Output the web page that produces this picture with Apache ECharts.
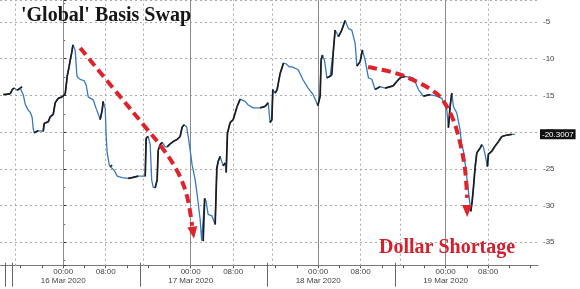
<!DOCTYPE html>
<html><head><meta charset="utf-8">
<script src="https://cdn.jsdelivr.net/npm/echarts@6/dist/echarts.min.js"></script>
<style>html,body{margin:0;padding:0;background:#fff}#c{width:580px;height:289px}</style>
</head><body><div id="c"></div>
<script>
// time in hours since 16 Mar 2020 00:00
const hours = [-11.29,-9.98,-9.60,-9.22,-8.66,-8.09,-7.72,-7.53,-7.15,-6.59,
-6.21,-5.84,-5.65,-5.46,-4.71,-3.76,-3.58,-2.82,-2.45,-1.88,
-1.51,-0.94,-0.19,0.38,0.75,1.13,1.32,1.60,1.83,2.07,
2.26,2.58,2.82,3.20,3.95,4.33,4.71,5.08,5.65,6.21,
6.78,6.96,7.34,7.53,7.91,8.09,8.28,8.66,8.85,9.22,
9.60,10.16,11.11,12.24,12.99,14.12,15.44,15.62,16.00,16.38,
16.66,16.94,17.32,17.69,17.88,18.26,18.64,19.20,19.58,20.14,
20.89,21.46,22.02,22.40,22.78,23.25,23.62,23.91,24.28,24.85,
25.22,25.79,26.07,26.35,26.64,26.92,27.29,27.99,28.61,28.93,
29.18,29.55,30.12,30.49,30.68,30.93,31.44,32.00,32.38,32.75,
33.32,33.69,34.26,34.82,35.76,37.08,38.02,38.59,38.96,39.29,
39.47,39.91,40.28,40.85,41.47,41.98,42.54,43.11,44.24,45.18,
46.12,47.06,47.62,47.94,48.38,48.56,48.81,49.19,49.45,49.64,
50.26,50.58,50.88,51.20,51.52,51.82,52.46,53.08,53.71,54.34,
54.97,55.29,55.91,56.34,56.85,57.47,58.11,58.73,59.67,60.61,
62.12,62.81,63.44,64.38,65.88,66.26,66.88,67.82,69.08,70.35,
71.29,72.23,72.53,72.85,73.17,73.47,74.11,74.73,75.05,75.35,
75.67,76.11,76.48,76.75,76.99,77.24,77.56,77.88,78.50,78.82,
79.12,79.62,79.87,80.06,80.70,81.32,81.94,82.58,83.52,84.46,
85.08];
const values = [-14.9,-14.8,-14.2,-14.0,-14.3,-14.0,-13.8,-14.9,-16.2,-17.0,
-17.3,-18.0,-19.5,-20.1,-19.8,-19.9,-18.8,-18.6,-17.9,-17.6,
-16.0,-15.4,-15.2,-14.8,-12.4,-11.0,-10.2,-9.2,-8.1,-8.5,
-8.9,-12.3,-12.6,-12.8,-13.0,-13.6,-15.2,-15.4,-15.6,-16.8,
-17.9,-18.3,-17.0,-15.8,-16.8,-20.5,-22.8,-24.4,-24.7,-24.5,
-25.2,-26.0,-26.2,-26.3,-26.2,-26.0,-26.0,-20.8,-20.6,-21.7,
-26.5,-27.5,-27.6,-26.5,-22.5,-21.7,-21.4,-22.0,-22.0,-21.6,
-21.2,-21.0,-20.6,-19.3,-19.0,-19.3,-21.0,-22.5,-24.5,-26.5,
-28.5,-31.9,-34.8,-34.85,-29.0,-29.5,-31.2,-31.4,-32.6,-24.9,
-24.0,-23.3,-24.6,-24.2,-25.5,-20.1,-18.7,-18.3,-17.4,-16.5,
-15.5,-15.6,-15.8,-16.3,-16.7,-16.7,-16.5,-16.0,-18.7,-18.3,
-14.2,-14.7,-14.2,-12.0,-10.6,-10.7,-11.1,-11.1,-11.5,-12.9,
-14.0,-14.9,-15.8,-16.4,-15.1,-10.2,-9.5,-10.2,-11.5,-12.6,
-12.4,-12.2,-8.8,-6.1,-6.5,-7.0,-6.1,-4.8,-5.9,-6.1,
-7.9,-11.0,-10.4,-8.8,-10.2,-12.6,-12.8,-14.2,-13.8,-14.0,
-13.7,-13.1,-12.6,-12.4,-12.6,-13.1,-14.2,-15.1,-14.9,-15.1,
-15.4,-17.0,-19.4,-16.5,-14.7,-16.5,-17.4,-19.7,-21.9,-22.5,
-24.2,-26.9,-29.2,-30.8,-29.5,-27.6,-24.8,-22.8,-22.2,-21.7,
-22.0,-23.7,-24.7,-23.0,-22.6,-21.9,-21.3,-20.6,-20.4,-20.3,
-20.3];
const lastValue = -20.3007;

// x-axis labelling
const dayStartHours = [0, 24, 48, 72];
const dayLabels = ['16 Mar 2020', '17 Mar 2020', '18 Mar 2020', '19 Mar 2020'];
const midnightLabel = '00:00';
const morningLabel = '08:00';
const morningOffset = 8;
const dottedGridHours = [-9.0, 8, 15.1, 32, 39.3, 56, 63.4, 80];
const longTickHours = [-10.9, -9.6, 14.4, 38.3, 62.5];

// annotations (data coordinates)
const titleText = "'Global' Basis Swap";
const noteText = 'Dollar Shortage';
const arrow1 = [[3.20,-8.54],[9.22,-13.84],[15.44,-19.29],[18.64,-22.14],[21.65,-25.54],[23.34,-28.81],[24.28,-32.76]];
const arrow1Head = [24.47,-33.71];
const arrow2 = [[57.41,-11.12],[62.49,-11.94],[65.88,-12.89],[69.08,-14.12],[71.15,-15.34],[73.22,-17.93],[74.73,-21.46],[75.67,-25.14],[76.05,-28.95]];
const arrow2Head = [76.05,-30.75];

const X_MIN = -11.9, X_MAX = 89.4, Y_MIN = -38.2, Y_MAX = -2.0;
const RED = '#e0232b';
const SANS = 'Liberation Sans';
const SERIF = 'Liberation Serif';

const mainData = hours.map((h, i) => [h, values[i]]);
const riseSegs = [];
for (let i = 1; i < hours.length; i++) {
  if (values[i] > values[i - 1]) riseSegs.push({coords: [[hours[i - 1], values[i - 1]], [hours[i], values[i]]]});
}

const chart = echarts.init(document.getElementById('c'), null, {renderer: 'canvas'});
chart.setOption({
  animation: false,
  backgroundColor: '#fff',
  title: [
    {text: titleText, left: 21, top: 6, padding: 0,
     textStyle: {fontFamily: SERIF, fontSize: 20, fontWeight: 'bold', color: '#161616'}},
    {text: noteText, left: 379, top: 238, padding: 0,
     textStyle: {fontFamily: SERIF, fontSize: 20, fontWeight: 'bold', color: '#d3202c'}}
  ],
  grid: {left: 0, right: 42, top: 0, bottom: 23.3, containLabel: false},
  xAxis: {
    type: 'value', min: X_MIN, max: X_MAX, minInterval: 4, maxInterval: 4, splitNumber: 25,
    axisLine: {show: true, onZero: false, lineStyle: {color: '#777', width: 1}},
    axisTick: {show: true, length: 2.5, lineStyle: {color: '#555'}},
    splitLine: {show: false},
    axisLabel: {
      margin: 1, color: '#444', fontSize: 8, lineHeight: 9.5, fontFamily: SANS,
      showMinLabel: false, showMaxLabel: false,
      formatter: function (v) {
        const r = ((v % 24) + 24) % 24;
        const d = dayStartHours.indexOf(v);
        if (d >= 0) return midnightLabel + '\n' + dayLabels[d];
        if (Math.abs(r - morningOffset) < 1e-6) return morningLabel;
        return '';
      }
    }
  },
  yAxis: {
    type: 'value', position: 'right', min: Y_MIN, max: Y_MAX, minInterval: 5, maxInterval: 5, splitNumber: 7,
    axisLine: {show: true, lineStyle: {color: '#555'}},
    axisTick: {show: true, length: 3, lineStyle: {color: '#333'}},
    minorTick: {show: true, splitNumber: 2, length: 2, lineStyle: {color: '#666'}},
    axisLabel: {showMinLabel: false, showMaxLabel: false, margin: 5, color: '#444', fontSize: 8, fontFamily: SANS},
    splitLine: {show: true, lineStyle: {type: [2, 3], color: '#aaa', width: 1}}
  },
  series: [
    {
      type: 'line', data: mainData, showSymbol: false, symbol: 'none', z: 3, silent: true,
      lineStyle: {color: '#3579c0', width: 1.3},
      markLine: {
        silent: true, symbol: 'none', z: 1, animation: false, label: {show: false},
        data: dayStartHours.map(h => ({xAxis: h, lineStyle: {type: 'solid', color: '#8a8a8a', width: 1}}))
          .concat(dottedGridHours.map(h => ({xAxis: h, lineStyle: {type: [2, 3], color: '#aaa', width: 1}})))
      }
    },
    {
      type: 'lines', coordinateSystem: 'cartesian2d', polyline: false, z: 4, silent: true,
      data: riseSegs, lineStyle: {color: '#1c1c1c', width: 1.7, opacity: 1}
    },
    {
      type: 'line', data: arrow1, smooth: 0.35, showSymbol: false, symbol: 'none', z: 5, silent: true,
      lineStyle: {color: RED, width: 4, type: [9, 5]}
    },
    {
      type: 'line', data: arrow2, smooth: 0.35, showSymbol: false, symbol: 'none', z: 5, silent: true,
      lineStyle: {color: RED, width: 4, type: [9, 5]}
    },
    {
      type: 'scatter', z: 5, silent: true, symbol: 'triangle', symbolSize: [10, 12],
      itemStyle: {color: RED, opacity: 1},
      data: [{value: arrow1Head, symbolRotate: 188}, {value: arrow2Head, symbolRotate: 181}]
    },
    {
      type: 'line', data: [mainData[mainData.length - 1]], showSymbol: false, symbol: 'none', z: 6, silent: true,
      lineStyle: {width: 0},
      markLine: {
        silent: true, symbol: 'none', z: 8, animation: false,
        lineStyle: {width: 0, color: '#111'},
        data: [{yAxis: lastValue}],
        label: {show: true, position: 'end', distance: 2, formatter: lastValue.toFixed(4),
          backgroundColor: '#111', color: '#fff', padding: [1, 2, 1, 2], fontSize: 8, fontFamily: SANS}
      }
    },
    {
      type: 'custom', clip: false, silent: true, z: 2,
      data: longTickHours.map(h => [h, Y_MIN]),
      encode: {x: 0, y: 1},
      renderItem: function (params, api) {
        const p = api.coord([api.value(0), api.value(1)]);
        const x = Math.round(p[0]) + 0.5;
        return {type: 'line', shape: {x1: x, y1: p[1] - 3, x2: x, y2: p[1] + 21},
          style: {stroke: '#666', lineWidth: 1}};
      }
    }
  ]
});
</script>
</body></html>
